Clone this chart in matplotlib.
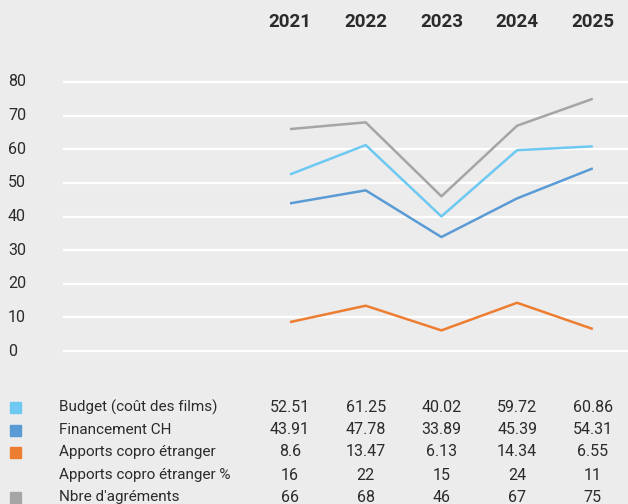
import matplotlib
matplotlib.use("Agg")
import matplotlib.pyplot as plt
from matplotlib.patches import Rectangle

plt.rcParams['font.family'] = ['Roboto', 'DejaVu Sans']

years = [2021, 2022, 2023, 2024, 2025]
budget = [52.51, 61.25, 40.02, 59.72, 60.86]
financement = [43.91, 47.78, 33.89, 45.39, 54.31]
apports = [8.6, 13.47, 6.13, 14.34, 6.55]
apports_pct = [16, 22, 15, 24, 11]
agrements = [66, 68, 46, 67, 75]

row_labels = ["Budget (coût des films)", "Financement CH", "Apports copro étranger",
              "Apports copro étranger %", "Nbre d'agréments"]
row_values = [budget, financement, apports, apports_pct, agrements]
row_colors = ["#6DC8F2", "#5B9BD5", "#ED7D31", None, "#A5A5A5"]
yticks = [0, 10, 20, 30, 40, 50, 60, 70, 80]

W, H = 628, 504
BG = "#ECECEC"
TXT = "#2B2B2B"
fig = plt.figure(figsize=(W / 100, H / 100), dpi=100, facecolor=BG)

# axes placement in pixels
x0_px, unit_x = 290.0, 75.7
y0_px, unit_y = 351.0, (351.0 - 82.0) / 80.0
xmin, xmax = 2018.0, 2025.5
ymin, ymax = -2.0, 82.0
left = x0_px - (2021 - xmin) * unit_x
right = x0_px + (xmax - 2021) * unit_x
top = y0_px - ymax * unit_y
bottom = y0_px - ymin * unit_y
ax = fig.add_axes([left / W, 1 - bottom / H, (right - left) / W, (bottom - top) / H])
ax.set_facecolor(BG)
ax.set_xlim(xmin, xmax)
ax.set_ylim(ymin, ymax)
for s in ax.spines.values():
    s.set_visible(False)
ax.set_xticks([])
ax.set_yticks([])
for t in yticks:
    ax.axhline(t, color="white", lw=1.6, zorder=1)

series = [(agrements, "#A5A5A5"), (budget, "#6DC8F2"), (financement, "#5B9BD5"), (apports, "#ED7D31")]
for vals, c in series:
    ax.plot(years, vals, color=c, lw=1.8, zorder=3, solid_capstyle="butt")

def fx(px):
    return px / W

def fy(py):
    return 1 - py / H

# y tick labels
for t in yticks:
    fig.text(fx(8), fy(y0_px - t * unit_y), str(t), ha="left", va="center",
             fontsize=11.5, color=TXT)

# year headers
for i, yr in enumerate(years):
    fig.text(fx(x0_px + i * unit_x), fy(22), str(yr), ha="center", va="center",
             fontsize=13.5, fontweight="bold", color=TXT)

# table
row_y = [407, 430, 452, 475, 497]
for ry, lab, vals, col in zip(row_y, row_labels, row_values, row_colors):
    if col is not None:
        fig.patches.append(Rectangle((fx(9.5), fy(ry + 5.5)), 11 / W, 11 / H,
                                     transform=fig.transFigure, color=col, figure=fig))
    fig.text(fx(59), fy(ry), lab, ha="left", va="center", fontsize=11, color=TXT)
    for i, v in enumerate(vals):
        fig.text(fx(x0_px + i * unit_x), fy(ry), f"{v:g}", ha="center", va="center",
                 fontsize=11.5, color=TXT)

fig.savefig("out.png", dpi=100, facecolor=BG)
